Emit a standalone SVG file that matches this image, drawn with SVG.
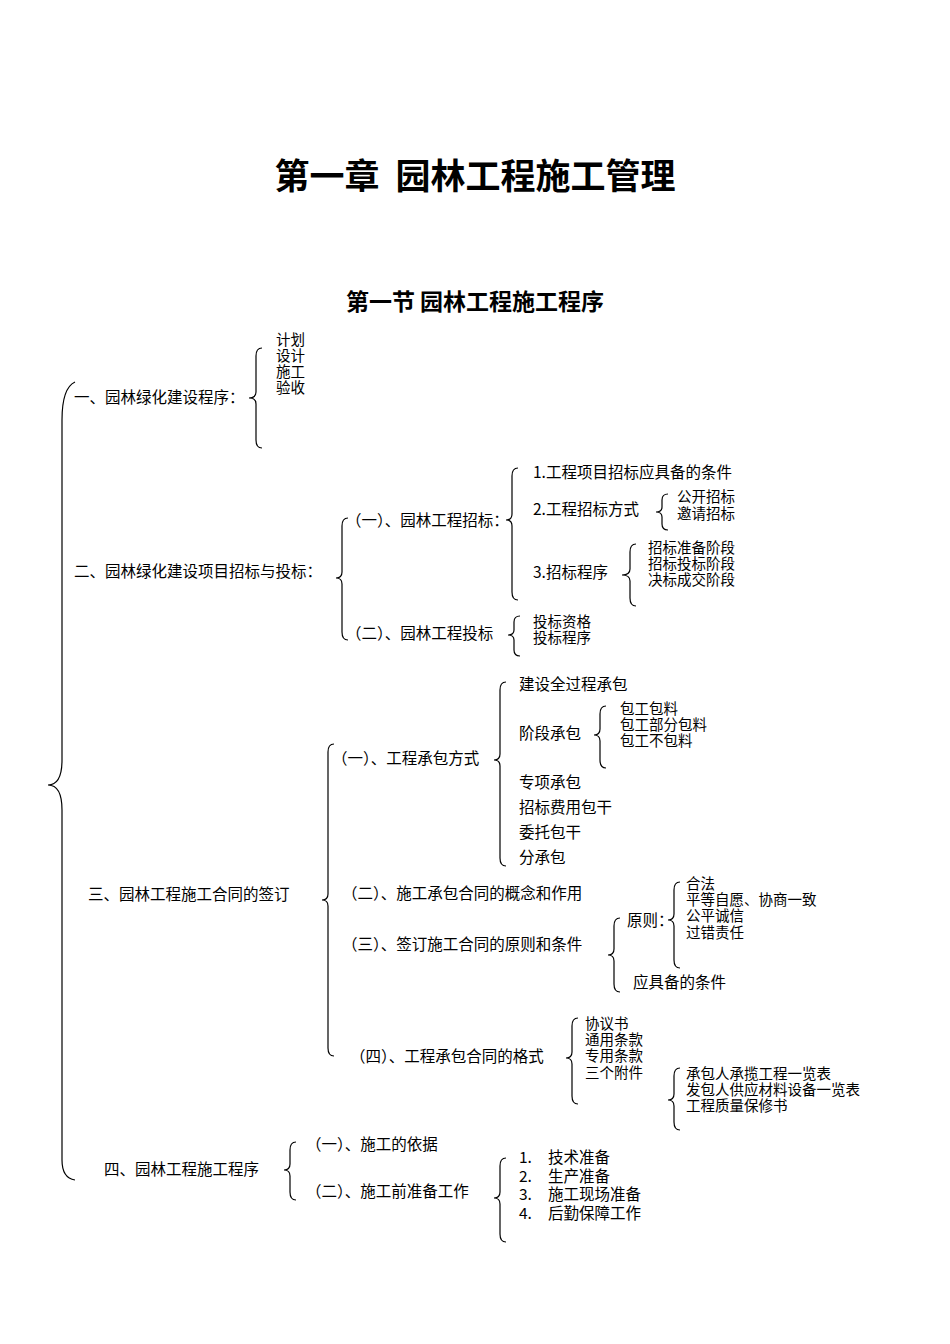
<svg xmlns="http://www.w3.org/2000/svg" width="950" height="1344" viewBox="0 0 950 1344">
<style>
text{font-family:"Noto Sans CJK SC","Liberation Serif",serif;font-size:15.5px;fill:#000}
.s{font-size:14.5px}
.t1{font-size:35px;font-weight:bold}
.t2{font-size:23px;font-weight:bold}
.b{fill:none;stroke:#000;stroke-width:1.2}
</style>
<rect width="950" height="1344" fill="#fff"/>
<g id="title"><text class="t1" x="475" y="189" text-anchor="middle" xml:space="preserve">第一章  园林工程施工管理</text>
<text class="t2" x="475" y="310" text-anchor="middle">第一节 园林工程施工程序</text></g>
<g id="connectors">
<path class="b" d="M75,382 Q62,388 62,420 L62,760 Q62,785 48,785 Q62,785 62,810 L62,1160 Q62,1178 75,1180"/>
<path class="b" d="M262,348 Q256,348 256,356 L256,392 Q256,398 249,398 Q256,398 256,404 L256,440 Q256,448 262,448"/>
<path class="b" d="M348,518 Q342,518 342,526 L342,572 Q342,578 336,578 Q342,578 342,584 L342,632 Q342,640 348,640"/>
<path class="b" d="M518,468 Q512,468 512,476 L512,514 Q512,520 506,520 Q512,520 512,526 L512,592 Q512,600 518,600"/>
<path class="b" d="M668,494 Q662,494 662,500 L662,507 Q662,512 656,512 Q662,512 662,517 L662,524 Q662,530 668,530"/>
<path class="b" d="M636,544 Q630,544 630,552 L630,569 Q630,575 622,575 Q630,575 630,581 L630,598 Q630,606 636,606"/>
<path class="b" d="M520,616 Q514,616 514,622 L514,630 Q514,635 508,635 Q514,635 514,640 L514,650 Q514,656 520,656"/>
<path class="b" d="M334,744 Q328,744 328,752 L328,894 Q328,900 322,900 Q328,900 328,906 L328,1048 Q328,1056 334,1056"/>
<path class="b" d="M506,682 Q500,682 500,690 L500,754 Q500,760 494,760 Q500,760 500,766 L500,858 Q500,866 506,866"/>
<path class="b" d="M606,706 Q600,706 600,714 L600,729 Q600,735 594,735 Q600,735 600,741 L600,760 Q600,768 606,768"/>
<path class="b" d="M680,882 Q674,882 674,890 L674,914 Q674,920 668,920 Q674,920 674,926 L674,960 Q674,968 680,968"/>
<path class="b" d="M620,918 Q614,918 614,926 L614,949 Q614,955 608,955 Q614,955 614,961 L614,984 Q614,992 620,992"/>
<path class="b" d="M578,1018 Q572,1018 572,1026 L572,1052 Q572,1058 566,1058 Q572,1058 572,1064 L572,1096 Q572,1104 578,1104"/>
<path class="b" d="M680,1068 Q674,1068 674,1076 L674,1094 Q674,1100 668,1100 Q674,1100 674,1106 L674,1122 Q674,1130 680,1130"/>
<path class="b" d="M296,1142 Q290,1142 290,1150 L290,1164 Q290,1170 284,1170 Q290,1170 290,1176 L290,1192 Q290,1200 296,1200"/>
<path class="b" d="M506,1158 Q500,1158 500,1166 L500,1192 Q500,1198 494,1198 Q500,1198 500,1204 L500,1234 Q500,1242 506,1242"/>
</g>
<g id="n1"><text x="74" y="403">一、园林绿化建设程序：</text>
<g class="s"><text class="s" x="276" y="345">计划</text><text class="s" x="276" y="361">设计</text><text class="s" x="276" y="377">施工</text><text class="s" x="276" y="393">验收</text></g></g>
<g id="n2"><text x="74" y="577">二、园林绿化建设项目招标与投标：</text>
<text x="346" y="526">（一）、园林工程招标：</text>
<text x="533" y="478">1.工程项目招标应具备的条件</text>
<text x="533" y="515">2.工程招标方式</text>
<text class="s" x="677" y="502">公开招标</text><text class="s" x="677" y="519">邀请招标</text>
<text x="533" y="578">3.招标程序</text>
<text class="s" x="648" y="553">招标准备阶段</text><text class="s" x="648" y="569">招标投标阶段</text><text class="s" x="648" y="585">决标成交阶段</text>
<text x="346" y="639">（二）、园林工程投标</text>
<text class="s" x="533" y="627">投标资格</text><text class="s" x="533" y="643">投标程序</text></g>
<g id="n3"><text x="88" y="900">三、园林工程施工合同的签订</text>
<text x="332" y="764">（一）、工程承包方式</text>
<text x="519" y="690">建设全过程承包</text>
<text x="519" y="739">阶段承包</text>
<text class="s" x="620" y="714">包工包料</text><text class="s" x="620" y="730">包工部分包料</text><text class="s" x="620" y="746">包工不包料</text>
<text x="519" y="788">专项承包</text><text x="519" y="813">招标费用包干</text><text x="519" y="838">委托包干</text><text x="519" y="863">分承包</text>
<text x="342" y="899">（二）、施工承包合同的概念和作用</text>
<text x="342" y="950">（三）、签订施工合同的原则和条件</text>
<text x="627" y="926">原则：</text>
<text class="s" x="686" y="889">合法</text><text class="s" x="686" y="905">平等自愿、协商一致</text><text class="s" x="686" y="921">公平诚信</text><text class="s" x="686" y="938">过错责任</text>
<text x="633" y="988">应具备的条件</text>
<text x="350" y="1062">（四）、工程承包合同的格式</text>
<text class="s" x="585" y="1029">协议书</text><text class="s" x="585" y="1045">通用条款</text><text class="s" x="585" y="1061">专用条款</text><text class="s" x="585" y="1078">三个附件</text>
<text class="s" x="686" y="1079">承包人承揽工程一览表</text><text class="s" x="686" y="1095">发包人供应材料设备一览表</text><text class="s" x="686" y="1111">工程质量保修书</text></g>
<g id="n4"><text x="104" y="1175">四、园林工程施工程序</text>
<text x="306" y="1150">（一）、施工的依据</text>
<text x="306" y="1197">（二）、施工前准备工作</text>
<text x="519" y="1163">1.</text><text x="548" y="1163">技术准备</text>
<text x="519" y="1182">2.</text><text x="548" y="1182">生产准备</text>
<text x="519" y="1200">3.</text><text x="548" y="1200">施工现场准备</text>
<text x="519" y="1219">4.</text><text x="548" y="1219">后勤保障工作</text></g>
</svg>
